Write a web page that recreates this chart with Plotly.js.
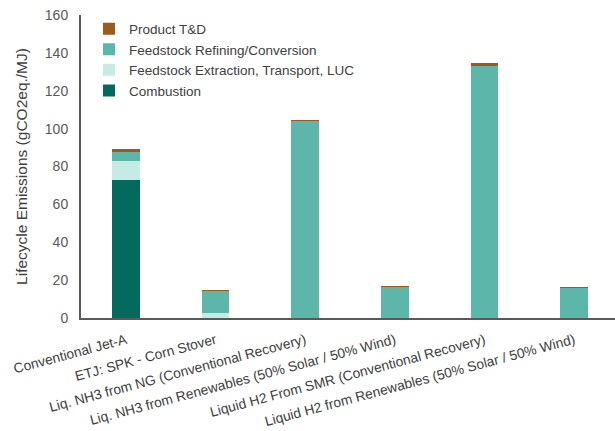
<!DOCTYPE html>
<html>
<head>
<meta charset="utf-8">
<script src="https://cdn.plot.ly/plotly-3.0.1.min.js"></script>
<style>html,body{margin:0;padding:0;background:#fff;}#chart{width:615px;height:431px;}</style>
</head>
<body>
<div id="chart"></div>
<script>
const categories = [
  "Conventional Jet-A",
  "ETJ: SPK - Corn Stover",
  "Liq. NH3 from NG (Conventional Recovery)",
  "Liq. NH3 from Renewables (50% Solar / 50% Wind)",
  "Liquid H2 From SMR (Conventional Recovery)",
  "Liquid H2 from Renewables (50% Solar / 50% Wind)"
];
const combustion = [73, 0, 0, 0, 0, 0];
const extraction = [9.8, 2.5, 0, 0, 0, 0];
const refining = [5.1, 11.8, 104.0, 16.2, 133.3, 15.8];
const transport = [1.2, 0.3, 0.6, 0.5, 1.2, 0.5];

const seriesNames = ["Combustion", "Feedstock Extraction, Transport, LUC", "Feedstock Refining/Conversion", "Product T&D"];
const seriesColors = ["#056a5e", "#c6eae4", "#5cb6aa", "#9a5b1c"];
const seriesValues = [combustion, extraction, refining, transport];

const traces = seriesValues.map((vals, i) => ({
  type: "bar",
  name: seriesNames[i],
  x: categories,
  y: vals,
  width: 0.31,
  marker: {color: seriesColors[i], line: {width: 0}},
  hoverinfo: "y+name"
}));

const layout = {
  width: 615,
  height: 431,
  barmode: "stack",
  paper_bgcolor: "#ffffff",
  plot_bgcolor: "#ffffff",
  margin: {l: 81, r: 0, t: 15, b: 113},
  font: {family: "Liberation Sans, Arial, sans-serif", color: "#404040", size: 14},
  showlegend: true,
  legend: {
    x: 0.015, y: 1.005, xanchor: "left", yanchor: "top",
    traceorder: "reversed",
    font: {size: 13.5, color: "#404040"},
    bgcolor: "rgba(0,0,0,0)",
    itemwidth: 30,
    tracegroupgap: 0
  },
  xaxis: {
    type: "category",
    range: [-0.5, 5.455],
    tickangle: -15,
    tickfont: {size: 13.8, color: "#404040"},
    ticklabelstandoff: 7,
    showline: true,
    linecolor: "#595959",
    linewidth: 2,
    ticks: "",
    showgrid: false,
    zeroline: false
  },
  yaxis: {
    range: [0, 160],
    dtick: 20,
    tickfont: {size: 14, color: "#595959"},
    showline: true,
    linecolor: "#595959",
    linewidth: 2,
    showgrid: false,
    zeroline: false,
    ticks: "",
    ticklabelstandoff: 8,
    title: {text: "Lifecycle Emissions (gCO2eq./MJ)", font: {size: 15.5, color: "#404040"}, standoff: 13}
  }
};

Plotly.newPlot("chart", traces, layout, {displayModeBar: false, staticPlot: true});
</script>
</body>
</html>
